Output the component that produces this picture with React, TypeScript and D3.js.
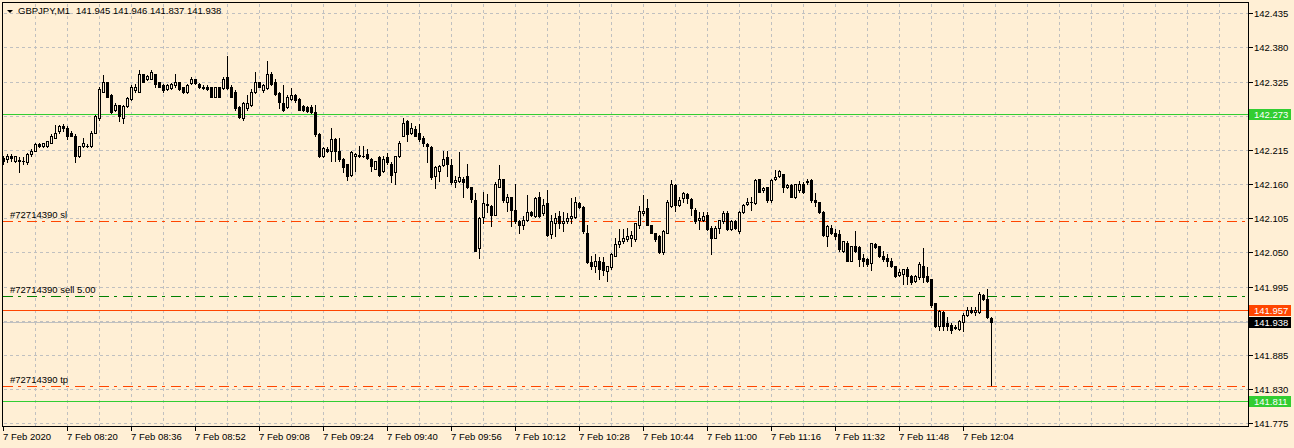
import React from 'react';
import * as d3 from 'd3';

// Chart window
const WIDTH = 1294;
const HEIGHT = 448;

const symbol = "GBPJPY,M1";

// price axis ticks
const priceTicks = [142.435, 142.38, 142.325, 142.27, 142.215, 142.16, 142.105, 142.05, 141.995, 141.94, 141.885, 141.83, 141.775];

// time labels, one every 16 bars
const timeLabels = [
  "7 Feb 2020", "7 Feb 08:20", "7 Feb 08:36", "7 Feb 08:52", "7 Feb 09:08", "7 Feb 09:24",
  "7 Feb 09:40", "7 Feb 09:56", "7 Feb 10:12", "7 Feb 10:28", "7 Feb 10:44", "7 Feb 11:00",
  "7 Feb 11:16", "7 Feb 11:32", "7 Feb 11:48", "7 Feb 12:04",
];

// horizontal price lines (solid, with a label on the axis)
const hLines = [142.273, 141.811];
const askLine = 141.957;
const bidLine = 141.938;

// order #72714390 lines
const orderLabels = ["#72714390 sl", "#72714390 sell 5.00", "#72714390 tp"];
const orderPrices = [142.101, 141.98, 141.835];

// M1 bars: open, high, low, close
const ohlc: [number, number, number, number][] = [
  [142.202, 142.205, 142.193, 142.197], [142.2, 142.208, 142.195, 142.206], [142.205, 142.208, 142.198, 142.202],
  [142.198, 142.206, 142.195, 142.205], [142.199, 142.203, 142.179, 142.198], [142.198, 142.203, 142.193, 142.197],
  [142.195, 142.21, 142.192, 142.208], [142.208, 142.216, 142.205, 142.214], [142.214, 142.226, 142.213, 142.224],
  [142.224, 142.226, 142.219, 142.222], [142.221, 142.227, 142.219, 142.226], [142.221, 142.23, 142.219, 142.229],
  [142.227, 142.24, 142.226, 142.238], [142.235, 142.255, 142.234, 142.243], [142.245, 142.255, 142.243, 142.253],
  [142.253, 142.256, 142.245, 142.25], [142.251, 142.253, 142.232, 142.238], [142.243, 142.245, 142.237, 142.238],
  [142.238, 142.24, 142.195, 142.206], [142.206, 142.222, 142.203, 142.221], [142.221, 142.234, 142.219, 142.227],
  [142.222, 142.224, 142.219, 142.221], [142.221, 142.245, 142.219, 142.243], [142.243, 142.271, 142.242, 142.269],
  [142.266, 142.316, 142.264, 142.313], [142.309, 142.335, 142.308, 142.324], [142.324, 142.325, 142.3, 142.301],
  [142.303, 142.305, 142.274, 142.276], [142.279, 142.29, 142.277, 142.288], [142.287, 142.288, 142.261, 142.269],
  [142.266, 142.287, 142.259, 142.285], [142.285, 142.3, 142.284, 142.298], [142.297, 142.319, 142.295, 142.317],
  [142.311, 142.321, 142.309, 142.317], [142.309, 142.343, 142.308, 142.338], [142.337, 142.338, 142.324, 142.325],
  [142.329, 142.335, 142.327, 142.334], [142.33, 142.343, 142.329, 142.34], [142.337, 142.338, 142.317, 142.321],
  [142.324, 142.325, 142.316, 142.317], [142.319, 142.321, 142.309, 142.311], [142.313, 142.321, 142.311, 142.319],
  [142.314, 142.322, 142.313, 142.321], [142.319, 142.337, 142.317, 142.324], [142.324, 142.325, 142.311, 142.313],
  [142.316, 142.317, 142.306, 142.308], [142.308, 142.321, 142.306, 142.319], [142.322, 142.332, 142.321, 142.33],
  [142.329, 142.33, 142.321, 142.322], [142.321, 142.322, 142.314, 142.316], [142.317, 142.319, 142.313, 142.314],
  [142.317, 142.319, 142.311, 142.313], [142.316, 142.317, 142.3, 142.301], [142.301, 142.317, 142.3, 142.316],
  [142.316, 142.317, 142.3, 142.301], [142.314, 142.332, 142.313, 142.329], [142.332, 142.367, 142.313, 142.314],
  [142.317, 142.319, 142.3, 142.301], [142.309, 142.311, 142.28, 142.282], [142.284, 142.285, 142.266, 142.268],
  [142.266, 142.292, 142.264, 142.29], [142.282, 142.303, 142.28, 142.29], [142.287, 142.313, 142.285, 142.308],
  [142.308, 142.34, 142.306, 142.324], [142.324, 142.325, 142.316, 142.317], [142.311, 142.321, 142.309, 142.319],
  [142.314, 142.358, 142.313, 142.337], [142.338, 142.34, 142.319, 142.321], [142.324, 142.329, 142.303, 142.305],
  [142.306, 142.308, 142.282, 142.292], [142.29, 142.319, 142.277, 142.279], [142.284, 142.303, 142.282, 142.301],
  [142.297, 142.314, 142.295, 142.303], [142.303, 142.305, 142.293, 142.295], [142.297, 142.298, 142.279, 142.28],
  [142.285, 142.287, 142.277, 142.279], [142.284, 142.285, 142.276, 142.277], [142.284, 142.287, 142.274, 142.276],
  [142.276, 142.287, 142.238, 142.24], [142.24, 142.242, 142.203, 142.206], [142.206, 142.219, 142.203, 142.218],
  [142.216, 142.219, 142.211, 142.214], [142.213, 142.251, 142.198, 142.232], [142.232, 142.234, 142.197, 142.214],
  [142.214, 142.235, 142.198, 142.2], [142.2, 142.202, 142.179, 142.187], [142.192, 142.193, 142.166, 142.173],
  [142.174, 142.213, 142.173, 142.211], [142.205, 142.21, 142.181, 142.208], [142.207, 142.221, 142.203, 142.206],
  [142.205, 142.222, 142.203, 142.206], [142.208, 142.216, 142.2, 142.202], [142.2, 142.202, 142.181, 142.189],
  [142.185, 142.198, 142.184, 142.197], [142.203, 142.205, 142.173, 142.174], [142.181, 142.205, 142.179, 142.2],
  [142.203, 142.21, 142.193, 142.195], [142.193, 142.195, 142.163, 142.174], [142.179, 142.206, 142.161, 142.205],
  [142.205, 142.229, 142.203, 142.227], [142.238, 142.266, 142.237, 142.258], [142.261, 142.263, 142.229, 142.24],
  [142.242, 142.259, 142.24, 142.251], [142.248, 142.253, 142.237, 142.238], [142.243, 142.256, 142.23, 142.232],
  [142.235, 142.237, 142.221, 142.226], [142.224, 142.226, 142.195, 142.221], [142.219, 142.221, 142.169, 142.171],
  [142.173, 142.189, 142.153, 142.187], [142.181, 142.19, 142.165, 142.189], [142.19, 142.213, 142.189, 142.2],
  [142.203, 142.213, 142.173, 142.193], [142.19, 142.2, 142.161, 142.163], [142.163, 142.173, 142.156, 142.166],
  [142.165, 142.211, 142.163, 142.171], [142.169, 142.171, 142.139, 142.163], [142.173, 142.192, 142.153, 142.155],
  [142.155, 142.156, 142.131, 142.136], [142.134, 142.145, 142.052, 142.053], [142.057, 142.107, 142.041, 142.105],
  [142.107, 142.148, 142.098, 142.129], [142.128, 142.144, 142.115, 142.126], [142.124, 142.126, 142.092, 142.111],
  [142.111, 142.163, 142.11, 142.16], [142.156, 142.19, 142.155, 142.168], [142.168, 142.169, 142.132, 142.134],
  [142.132, 142.144, 142.116, 142.14], [142.139, 142.14, 142.092, 142.119], [142.119, 142.16, 142.098, 142.1],
  [142.1, 142.102, 142.082, 142.095], [142.095, 142.108, 142.087, 142.102], [142.103, 142.142, 142.1, 142.115],
  [142.115, 142.116, 142.108, 142.11], [142.108, 142.139, 142.107, 142.137], [142.139, 142.147, 142.107, 142.108],
  [142.113, 142.136, 142.111, 142.126], [142.129, 142.15, 142.076, 142.078], [142.079, 142.111, 142.074, 142.1],
  [142.098, 142.113, 142.076, 142.105], [142.108, 142.116, 142.09, 142.097], [142.098, 142.115, 142.084, 142.1],
  [142.1, 142.113, 142.098, 142.105], [142.105, 142.137, 142.098, 142.108], [142.107, 142.14, 142.105, 142.131],
  [142.129, 142.131, 142.121, 142.123], [142.123, 142.124, 142.082, 142.084], [142.081, 142.094, 142.033, 142.034],
  [142.034, 142.045, 142.023, 142.029], [142.029, 142.047, 142.018, 142.036], [142.037, 142.042, 142.007, 142.023],
  [142.034, 142.042, 142.013, 142.021], [142.02, 142.029, 142.004, 142.028], [142.026, 142.049, 142.024, 142.047],
  [142.045, 142.073, 142.044, 142.063], [142.063, 142.087, 142.058, 142.068], [142.068, 142.087, 142.066, 142.074],
  [142.071, 142.09, 142.069, 142.076], [142.073, 142.084, 142.06, 142.078], [142.071, 142.098, 142.068, 142.097],
  [142.095, 142.124, 142.089, 142.116], [142.113, 142.142, 142.111, 142.116], [142.121, 142.136, 142.094, 142.095],
  [142.094, 142.095, 142.081, 142.082], [142.081, 142.082, 142.068, 142.071], [142.076, 142.078, 142.049, 142.05],
  [142.05, 142.086, 142.047, 142.084], [142.082, 142.134, 142.081, 142.132], [142.124, 142.166, 142.123, 142.16],
  [142.158, 142.16, 142.116, 142.126], [142.126, 142.139, 142.124, 142.134], [142.137, 142.147, 142.131, 142.145],
  [142.144, 142.145, 142.129, 142.137], [142.136, 142.137, 142.111, 142.121], [142.119, 142.121, 142.098, 142.1],
  [142.103, 142.115, 142.087, 142.105], [142.102, 142.115, 142.1, 142.108], [142.111, 142.115, 142.086, 142.087],
  [142.09, 142.092, 142.047, 142.074], [142.074, 142.092, 142.073, 142.089], [142.089, 142.103, 142.082, 142.102],
  [142.1, 142.116, 142.098, 142.113], [142.113, 142.116, 142.086, 142.087], [142.087, 142.102, 142.086, 142.1],
  [142.1, 142.102, 142.087, 142.089], [142.084, 142.116, 142.082, 142.115], [142.115, 142.128, 142.113, 142.126],
  [142.128, 142.137, 142.126, 142.131], [142.131, 142.139, 142.119, 142.132], [142.129, 142.168, 142.128, 142.166],
  [142.168, 142.169, 142.147, 142.148], [142.15, 142.156, 142.147, 142.153], [142.155, 142.156, 142.132, 142.134],
  [142.134, 142.168, 142.132, 142.166], [142.168, 142.182, 142.166, 142.171], [142.173, 142.182, 142.171, 142.181],
  [142.176, 142.177, 142.147, 142.155], [142.155, 142.161, 142.153, 142.158], [142.158, 142.16, 142.139, 142.14],
  [142.139, 142.161, 142.137, 142.16], [142.15, 142.165, 142.147, 142.16], [142.161, 142.163, 142.145, 142.147],
  [142.163, 142.169, 142.161, 142.165], [142.166, 142.168, 142.132, 142.134], [142.134, 142.145, 142.124, 142.131],
  [142.131, 142.132, 142.113, 142.115], [142.115, 142.116, 142.076, 142.078], [142.076, 142.094, 142.061, 142.092],
  [142.09, 142.095, 142.079, 142.081], [142.081, 142.087, 142.071, 142.076], [142.079, 142.086, 142.053, 142.055],
  [142.052, 142.069, 142.05, 142.068], [142.066, 142.068, 142.036, 142.037], [142.037, 142.061, 142.036, 142.06],
  [142.06, 142.084, 142.05, 142.052], [142.058, 142.06, 142.029, 142.039], [142.041, 142.047, 142.028, 142.036],
  [142.039, 142.041, 142.029, 142.031], [142.033, 142.066, 142.021, 142.065], [142.063, 142.066, 142.057, 142.058],
  [142.06, 142.061, 142.042, 142.044], [142.044, 142.052, 142.037, 142.039], [142.041, 142.047, 142.028, 142.036],
  [142.036, 142.041, 142.026, 142.028], [142.028, 142.029, 142.01, 142.012], [142.013, 142.023, 142.012, 142.018],
  [142.016, 142.024, 141.999, 142.023], [142.024, 142.026, 141.999, 142.012], [142.012, 142.013, 142.0, 142.002],
  [142.004, 142.013, 142.002, 142.012], [142.01, 142.034, 142.008, 142.031], [142.029, 142.057, 142.002, 142.01],
  [142.012, 142.026, 142.002, 142.004], [142.007, 142.008, 141.963, 141.965], [141.968, 141.969, 141.93, 141.931],
  [141.931, 141.958, 141.925, 141.955], [141.954, 141.955, 141.925, 141.931], [141.936, 141.946, 141.925, 141.931],
  [141.934, 141.936, 141.921, 141.925], [141.93, 141.934, 141.926, 141.929], [141.926, 141.941, 141.925, 141.939],
  [141.938, 141.952, 141.923, 141.95], [141.949, 141.962, 141.947, 141.958], [141.958, 141.962, 141.952, 141.954],
  [141.954, 141.963, 141.949, 141.957], [141.954, 141.986, 141.952, 141.983], [141.981, 141.983, 141.973, 141.975],
  [141.975, 141.991, 141.944, 141.946], [141.945, 141.946, 141.837, 141.938],
];

const BG = "#FFEFD5";
const GRID = "#C0C0C0";
const FONT = "'Liberation Sans', Arial, sans-serif";

const App: React.FC = () => {
  // plot frame
  const left = 2.5, top = 2.5, right = 1248.5, bottom = 426.5;

  // 4px per bar, bar 0 at x=3
  const x = d3.scaleLinear().domain([0, 311]).range([3, 1247]);
  const y = d3.scaleLinear().domain([141.775, 142.435]).range([423.3, 13.3]);

  const row = (p: number) => Math.round(y(p));
  const py = (p: number) => row(p) + 0.5;

  const vGrid = d3.range(8, 312, 8).filter((i) => x(i) < 1246);
  const last = ohlc[ohlc.length - 1];

  const priceBox = (p: number, fill: string, key: string) => {
    const yy = row(p);
    return (
      <g key={key}>
        <rect x={1249} y={yy - 5} width={42} height={11} fill={fill} />
        <text x={1254} y={yy + 4} fontSize={9.5} fill="#fff" fontFamily={FONT}>{p.toFixed(3)}</text>
      </g>
    );
  };

  return (
    <>
      <style>{`body{margin:0}`}</style>
      <svg width={WIDTH} height={HEIGHT} style={{ display: 'block', background: BG }}>
        <rect x={0} y={0} width={WIDTH} height={HEIGHT} fill={BG} />

        {/* grid */}
        <g stroke={GRID} strokeDasharray="3,3" shapeRendering="crispEdges">
          {priceTicks.map((p) => (
            <line key={`h${p}`} x1={left + 1} x2={right - 1} y1={py(p)} y2={py(p)} />
          ))}
          {vGrid.map((i) => (
            <line key={`v${i}`} x1={Math.round(x(i)) + 0.5} x2={Math.round(x(i)) + 0.5} y1={top + 1} y2={bottom - 1} />
          ))}
        </g>

        {/* solid price lines */}
        <g shapeRendering="crispEdges" strokeWidth={1}>
          {hLines.map((p) => (
            <line key={`l${p}`} x1={left} x2={right} y1={py(p)} y2={py(p)} stroke="#32CD32" />
          ))}
          <line x1={left} x2={right} y1={py(askLine)} y2={py(askLine)} stroke="#FF4500" />
          <line x1={left} x2={right} y1={py(bidLine)} y2={py(bidLine)} stroke="#C0C0C0" />
        </g>

        {/* order lines */}
        <g shapeRendering="crispEdges">
          {orderPrices.map((p, i) => (
            <g key={`o${i}`}>
              <line x1={3} x2={right - 3} y1={py(p)} y2={py(p)}
                stroke={i === 1 ? "#008000" : "#FF4500"} strokeDasharray="10,5,3,6" />
              <text x={10} y={row(p) - 3} fontSize={9.5} fontFamily={FONT} fill="#000">{orderLabels[i]}</text>
            </g>
          ))}
        </g>

        {/* candles */}
        <g shapeRendering="crispEdges">
          {ohlc.map(([o, h, l, c], i) => {
            const cx = Math.round(x(i)) + 0.5;
            const yo = row(o);
            const yc = row(c);
            const t = Math.min(yo, yc);
            const b = Math.max(yo, yc);
            const bull = c >= o;
            return (
              <g key={i}>
                <line x1={cx} x2={cx} y1={row(h)} y2={row(l) + 1} stroke="#000" />
                {b - t < 1 ? (
                  <line x1={cx - 1.5} x2={cx + 1.5} y1={t + 0.5} y2={t + 0.5} stroke="#000" />
                ) : (
                  <rect x={cx - 1} y={t + 0.5} width={2} height={b - t} fill={bull ? BG : "#000"} stroke="#000" />
                )}
              </g>
            );
          })}
        </g>

        {/* frame */}
        <rect x={left} y={top} width={right - left} height={bottom - top} fill="none" stroke="#000" shapeRendering="crispEdges" />

        {/* price axis */}
        <g fontFamily={FONT} fontSize={9.5} fill="#000">
          {priceTicks.map((p) => (
            <g key={`t${p}`}>
              <line x1={right} x2={right + 4} y1={py(p)} y2={py(p)} stroke="#000" shapeRendering="crispEdges" />
              <text x={1254} y={row(p) + 4}>{p.toFixed(3)}</text>
            </g>
          ))}
        </g>
        {hLines.map((p, i) => priceBox(p, "#32CD32", `hb${i}`))}
        {priceBox(askLine, "#FF4500", "ask")}
        {priceBox(bidLine, "#000", "bid")}

        {/* time axis */}
        <g fontFamily={FONT} fontSize={9.5} fill="#000">
          {timeLabels.map((lab, k) => {
            const tx = Math.round(x(k * 16)) + 0.5;
            return (
              <g key={lab}>
                <line x1={tx} x2={tx} y1={bottom} y2={bottom + 4} stroke="#000" shapeRendering="crispEdges" />
                <text x={tx - 0.5} y={440}>{lab}</text>
              </g>
            );
          })}
        </g>

        {/* header */}
        <path d="M7,10 L13,10 L10,13 Z" fill="#000" />
        <g fontFamily={FONT} fontSize={9.5} fill="#000">
          <text x={18} y={14}>{symbol}</text>
          <text x={76} y={14}>{last.map((v) => v.toFixed(3)).join(" ")}</text>
        </g>
      </svg>
    </>
  );
};

export default App;
